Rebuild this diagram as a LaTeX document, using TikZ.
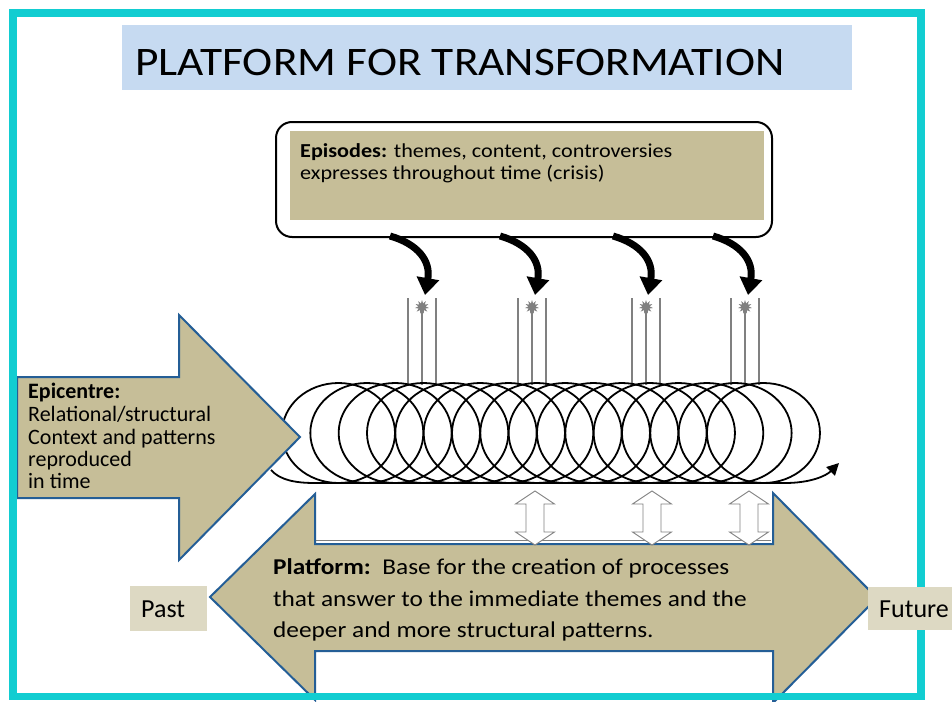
\documentclass[tikz,border=0pt]{standalone}
\usepackage{fontspec}
\setmainfont{Carlito}
\newfontfamily\widefont{Carlito}[FakeStretch=1.12]
\usetikzlibrary{arrows.meta,shapes.geometric,calc}
\definecolor{framecyan}{RGB}{18,205,209}
\definecolor{bannerblue}{RGB}{198,218,241}
\definecolor{tan}{RGB}{198,190,152}
\definecolor{lighttan}{RGB}{221,217,195}
\definecolor{arrowblue}{RGB}{36,94,150}
\definecolor{tubegray}{RGB}{128,128,128}
\begin{document}
\begin{tikzpicture}[x=1pt,y=-1pt,
  txt/.style={anchor=base west,inner sep=0pt},
  wide/.style={txt,font=\widefont\fontsize{#1}{#1}\selectfont},
  plain/.style={txt,font=\fontsize{#1}{#1}\selectfont},
  bigarrow/.style={fill=tan,draw=arrowblue,line width=2pt,line join=miter},
  curvarrow/.style={line width=7pt,-{Triangle[length=17pt,width=22pt]}},
  tubeline/.style={draw=tubegray,line width=1.1pt},
  coil/.style={draw=black,line width=1.8pt},
  updown/.style={fill=white,draw=tubegray,line width=0.9pt},
  burst/.style={star,star points=11,star point ratio=1.9,fill=tubegray,draw=none,minimum size=14pt,inner sep=0pt}]
\useasboundingbox (0,0) rectangle (952,701);
\fill[white] (0,0) rectangle (952,701);
% title banner
\fill[bannerblue] (122,25) rectangle (852,90);
\node[wide=40.5] (title) at (135,75) {PLATFORM FOR TRANSFORMATION};
% episodes box
\draw[black,line width=2pt,fill=white,rounded corners=16pt] (276,122) rectangle (772,237);
\fill[tan] (290,131) rectangle (764,220);
\node[wide=19.8] (ep1) at (300,157) {\textbf{Episodes:} themes, content, controversies};
\node[wide=19.8] (ep2) at (300,179) {expresses throughout time (crisis)};
% tubes with bursts
\foreach \i/\c in {1/422,2/532,3/646,4/745}{
  \coordinate (tl\i) at (\c-14,298);
  \coordinate (tr\i) at (\c+14,298);
  \coordinate (bl\i) at (\c-14,385);
  \coordinate (br\i) at (\c+14,385);
  \coordinate (bc\i) at (\c,385);
  \draw[tubeline] (tl\i) -- (bl\i);
  \draw[tubeline] (tr\i) -- (br\i);
  \node[burst] (star\i) at (\c,307) {};
  \draw[tubeline] (star\i.center) -- (bc\i);
}
% curved arrows from the episodes box
\foreach \i/\o in {1/0,2/110,3/223,4/323}{
  \coordinate (s\i) at (390+\o,236);
  \coordinate (t\i) at (425+\o,295);
  \draw[curvarrow] (s\i) .. controls ($(s\i)+(28,8)$) and ($(t\i)+(6,-34)$) .. (t\i);
}
% coil
\foreach \k in {0,...,15}{
  \draw[coil] (338.5+28.33*\k,433) ellipse [x radius=56.5,y radius=50];
}
\coordinate (cs) at (271,470);
\coordinate (ce) at (839,463);
\draw[coil,-{Triangle[length=12pt,width=12pt]}] (cs) .. controls (280,480) and (295,483) .. (315,483) -- (785,483) .. controls (810,483) and (826,476) .. (ce);
% thin grey line above platform
\coordinate (gl) at (316,540);
\coordinate (gr) at (771,540);
\draw[tubegray,line width=1pt] (gl) -- (gr);
% platform double arrow
\draw[bigarrow] (210,597) -- (315,494) -- (315,544) -- (773,544) -- (773,493) -- (877,598) -- (773,703) -- (773,651) -- (315,651) -- (315,700) -- cycle;
\node[wide=22.6] (pl1) at (273,574) {\textbf{Platform:}\ \ Base for the creation of processes};
\node[wide=22.6] (pl2) at (273,606) {that answer to the immediate themes and the};
\node[wide=22.6] (pl3) at (273,637) {deeper and more structural patterns.};
% white up-down arrows
\foreach \c in {535,652,749}{
  \draw[updown] (\c,491) -- (\c+19.5,504) -- (\c+9,504) -- (\c+9,532) -- (\c+19.5,532) -- (\c,545) -- (\c-19.5,532) -- (\c-9,532) -- (\c-9,504) -- (\c-19.5,504) -- cycle;
}
% epicentre arrow
\draw[bigarrow] (17,377) -- (179,377) -- (179,315) -- (300,437) -- (179,560) -- (179,498) -- (17,498) -- cycle;
\node[plain=22] (e1) at (28,398) {\textbf{Epicentre:}};
\node[plain=22] (e2) at (28,421) {Relational/structural};
\node[plain=22] (e3) at (28,444) {Context and patterns};
\node[plain=22] (e4) at (28,466) {reproduced};
\node[plain=22] (e5) at (28,488) {in time};
% cyan frame
\draw[framecyan,line width=7.5pt] (13,13) rectangle (921,696.5);
% past and future
\fill[lighttan] (130,586) rectangle (207,631);
\node[plain=26] (past) at (141,617) {Past};
\fill[lighttan] (868,587) rectangle (960,630);
\node[plain=26] (future) at (879,617) {Future};
\end{tikzpicture}
\end{document}
